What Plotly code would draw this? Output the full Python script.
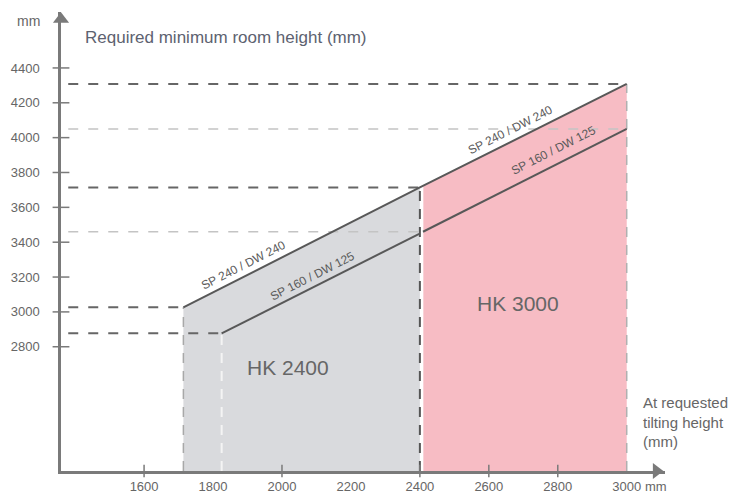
import numpy as np
import plotly.graph_objects as go

# ---------------- data ----------------
x_ticks = [1600, 1800, 2000, 2200, 2400, 2600, 2800, 3000]
x_tick_labels = ["1600", "1800", "2000", "2200", "2400", "2600", "2800", "3000"]
x_tick_marks = [1600, 2000, 2400, 2600, 2800]
y_ticks = [2800, 3000, 3200, 3400, 3600, 3800, 4000, 4200, 4400]
y_tick_labels = ["2800", "3000", "3200", "3400", "3600", "3800", "4000", "4200", "4400"]

# SP 240 / DW 240 line (tilting height -> room height)
upper_x = [1714, 2400, 3000]
upper_y = [3026, 3714, 4308]
# SP 160 / DW 125 line, HK 2400 part and HK 3000 part
lower_gray_x = [1825, 2398]
lower_gray_y = [2877, 3448]
lower_pink_x = [2409, 3000]
lower_pink_y = [3460, 4050]

hk2400_span = [1714, 2400]
hk3000_span = [2410, 3000]

# ---------------- axes geometry ----------------
X0, X1 = 1359, 3111
Y0, Y1 = 2087, 4721
W, H = 742, 495
ML, MR, MT, MB = 61, 77, 12, 24
PW, PH = W - ML - MR, H - MT - MB

def px2paper(px, py):
    return (px - ML) / PW, (H - MB - py) / PH

GRAY_FILL = "#d9dadd"
PINK_FILL = "#f7bcc4"
LINE = "#585858"
DASH_DARK = "#666666"
DASH_LIGHT = "#c4c4c4"
AXIS = "#7a7a7a"
TXT = "#666666"
FONT = "Liberation Sans, Arial, sans-serif"

fig = go.Figure()

# filled regions
gx = [hk2400_span[0], hk2400_span[0], hk2400_span[1], hk2400_span[1]]
gy = [Y0, float(np.interp(hk2400_span[0], upper_x, upper_y)),
      float(np.interp(hk2400_span[1], upper_x, upper_y)), Y0]
fig.add_trace(go.Scatter(x=gx, y=gy, fill="toself", fillcolor=GRAY_FILL,
                         line=dict(width=0), mode="lines", hoverinfo="skip"))
px_ = [hk3000_span[0], hk3000_span[0], hk3000_span[1], hk3000_span[1]]
py_ = [Y0, float(np.interp(hk3000_span[0], upper_x, upper_y)),
       float(np.interp(hk3000_span[1], upper_x, upper_y)), Y0]
fig.add_trace(go.Scatter(x=px_, y=py_, fill="toself", fillcolor=PINK_FILL,
                         line=dict(width=0), mode="lines", hoverinfo="skip"))

def seg(xs, ys, color, width, dash=None):
    fig.add_trace(go.Scatter(x=xs, y=ys, mode="lines", hoverinfo="skip",
                             line=dict(color=color, width=width, dash=dash)))

XS = 1380  # dashed guide start
# horizontal guides
seg([XS, upper_x[0]], [upper_y[0]] * 2, DASH_DARK, 2, "10px,10px")
seg([XS, lower_gray_x[0]], [lower_gray_y[0]] * 2, DASH_DARK, 2, "10px,10px")
seg([XS, 2400], [upper_y[1]] * 2, DASH_DARK, 2, "10px,10px")
seg([XS, 2400], [lower_pink_y[0]] * 2, DASH_LIGHT, 1.5, "10px,10px")
seg([XS, 3000], [upper_y[2]] * 2, DASH_DARK, 2, "10px,10px")
seg([XS, 3000], [lower_pink_y[1]] * 2, DASH_LIGHT, 1.5, "10px,10px")
# vertical guides
seg([upper_x[0]] * 2, [Y0, upper_y[0]], "#a8a8a8", 1.5, "10px,8px")
seg([lower_gray_x[0]] * 2, [Y0, lower_gray_y[0]], "#f4f4f4", 2, "10px,8px")
seg([2400] * 2, [Y0, upper_y[1]], "#555555", 2, "10px,8px")
seg([3000] * 2, [Y0, upper_y[2]], "#b0b0b0", 1.5, "10px,8px")

# main lines
seg(upper_x, upper_y, LINE, 2)
seg(lower_gray_x, lower_gray_y, LINE, 2)
seg(lower_pink_x, lower_pink_y, LINE, 2)

# crossing tick marks
fig.add_trace(go.Scatter(x=x_tick_marks, y=[Y0] * len(x_tick_marks), mode="markers",
                         cliponaxis=False, hoverinfo="skip",
                         marker=dict(symbol="line-ns", size=9,
                                     line=dict(color=AXIS, width=1.5))))
fig.add_trace(go.Scatter(x=[X0] * len(y_ticks), y=y_ticks, mode="markers",
                         cliponaxis=False, hoverinfo="skip",
                         marker=dict(symbol="line-ew", size=12,
                                     line=dict(color=AXIS, width=1.5))))
# arrow heads
fig.add_trace(go.Scatter(x=[X0], y=[4680], mode="markers", cliponaxis=False,
                         hoverinfo="skip",
                         marker=dict(symbol="triangle-up", size=14, color=AXIS)))
fig.add_trace(go.Scatter(x=[3086], y=[Y0], mode="markers", cliponaxis=False,
                         hoverinfo="skip",
                         marker=dict(symbol="triangle-right", size=14, color=AXIS)))

annotations = []
# region labels
annotations.append(dict(x=2018, y=2681, xref="x", yref="y", text="HK 2400",
                        showarrow=False, font=dict(size=21, color=TXT, family=FONT)))
annotations.append(dict(x=2684, y=3051, xref="x", yref="y", text="HK 3000",
                        showarrow=False, font=dict(size=21, color=TXT, family=FONT)))
# line labels
ang = -27
for (lx, ly, t) in [(1889, 3269, "SP 240 / DW 240"), (2089, 3206, "SP 160 / DW 125"),
                    (2662, 4044, "SP 240 / DW 240"), (2789, 3929, "SP 160 / DW 125")]:
    annotations.append(dict(x=lx, y=ly, xref="x", yref="y", text=t, textangle=ang,
                            showarrow=False, font=dict(size=12, color="#5a5a5a", family=FONT)))

# axis texts
def paper_text(px, py, text, size, color=TXT, xanchor="center", align="center"):
    ax_, ay_ = px2paper(px, py)
    annotations.append(dict(x=ax_, y=ay_, xref="paper", yref="paper",
                            xanchor=xanchor, yanchor="middle", align=align,
                            text=text, showarrow=False,
                            font=dict(size=size, color=color, family=FONT)))

paper_text(83, 38, "Required minimum room height (mm)", 17, "#5d6270", xanchor="left")
paper_text(28, 21, "mm", 14)
paper_text(641, 422, "At requested<br>tilting height<br>(mm)", 15, xanchor="left", align="left")
paper_text(656, 486, "mm", 13)

fig.update_layout(
    width=W, height=H, margin=dict(l=ML, r=MR, t=MT, b=MB, autoexpand=False),
    paper_bgcolor="white", plot_bgcolor="white", showlegend=False,
    annotations=annotations,
    xaxis=dict(range=[X0, X1], showgrid=False, zeroline=False, showline=True,
               linecolor=AXIS, linewidth=2.5, tickvals=x_ticks, ticktext=x_tick_labels,
               ticks="", ticklabelstandoff=2, automargin=False,
               tickfont=dict(size=13, color=TXT, family=FONT), fixedrange=True),
    yaxis=dict(range=[Y0, Y1], showgrid=False, zeroline=False, showline=True,
               linecolor=AXIS, linewidth=2.5, tickvals=y_ticks, ticktext=y_tick_labels,
               ticks="", ticklabelstandoff=16, automargin=False,
               tickfont=dict(size=13, color=TXT, family=FONT), fixedrange=True),
)

fig.write_html("out.html", config={"displayModeBar": False},
               post_script="document.body.style.margin='0';document.body.style.overflow='hidden';")
